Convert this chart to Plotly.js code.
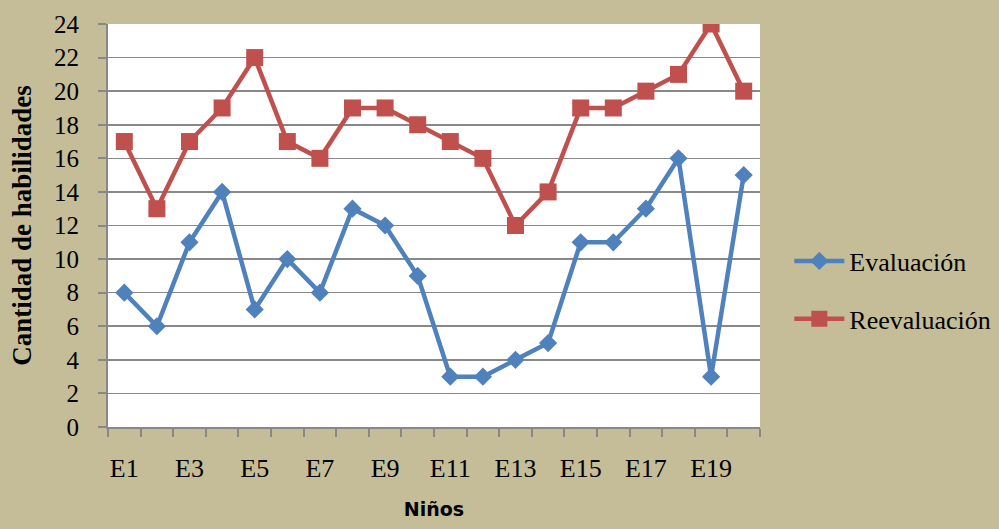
<!DOCTYPE html>
<html><head><meta charset="utf-8">
<script src="https://cdn.plot.ly/plotly-3.0.1.min.js"></script>
<style>html,body{margin:0;padding:0;background:#C4BD97;}</style>
</head><body>
<div id="chart" style="width:999px;height:529px;"></div>
<script>
const categories = ["E1","E2","E3","E4","E5","E6","E7","E8","E9","E10","E11","E12","E13","E14","E15","E16","E17","E18","E19","E20"];
const evaluacion = [8,6,11,14,7,10,8,13,12,9,3,3,4,5,11,11,13,16,3,15];
const reevaluacion = [17,13,17,19,22,17,16,19,19,18,17,16,12,14,19,19,20,21,24,20];
const yTicks = [0,2,4,6,8,10,12,14,16,18,20,22,24];

const xIdx = categories.map((c,i)=>i);
const labelIdx = xIdx.filter(i=>i%2===0);
const labelText = labelIdx.map(i=>categories[i]);
const serif = "Liberation Serif";

const traces = [
  {x:xIdx, y:evaluacion, name:"Evaluación", mode:"lines+markers", legendgroup:"a",
   line:{color:"#4F81BD", width:4.5}, marker:{symbol:"diamond", size:14, color:"#4F81BD"}},
  {x:xIdx, y:reevaluacion, name:"Reevaluación", mode:"lines+markers", legendgroup:"b",
   line:{color:"#C0504D", width:4.5}, marker:{symbol:"square", size:17, color:"#C0504D"}}
];
const layout = {
  width:999, height:529,
  paper_bgcolor:"#C4BD97", plot_bgcolor:"#FFFFFF",
  margin:{l:108, r:239, t:24, b:102, autoexpand:false},
  showlegend:true,
  legend:{x:1.045, xanchor:"left", y:0.34, yanchor:"middle", bgcolor:"rgba(0,0,0,0)",
    font:{family:serif, size:26, color:"#000"}, tracegroupgap:21, itemwidth:50},
  xaxis:{range:[-0.5,19.5], tickmode:"array", tickvals:labelIdx, ticktext:labelText,
    ticks:"", ticklen:0, showgrid:false, zeroline:false, showline:true, linecolor:"#888888", linewidth:2,
    ticklabelstandoff:17,
    minor:{tickmode:"linear", tick0:-0.5, dtick:1, ticks:"outside", ticklen:8, tickcolor:"#888888", tickwidth:2, showgrid:false},
    tickfont:{family:serif, size:26, color:"#000"},
    title:{text:"<b>Niños</b>", font:{family:"DejaVu Sans", size:19, color:"#000"}, standoff:20}},
  yaxis:{range:[0,24], tickmode:"array", tickvals:yTicks, ticks:"outside", ticklen:8, tickcolor:"#888888", tickwidth:2,
    showgrid:true, gridcolor:"#888888", gridwidth:1.6, zeroline:false, showline:true, linecolor:"#888888", linewidth:2,
    tickfont:{family:serif, size:25, color:"#000"}, ticklabelstandoff:14,
    title:{text:"<b>Cantidad de habilidades</b>", font:{family:serif, size:27, color:"#000"}, standoff:15}}
};
Plotly.newPlot("chart", traces, layout, {displayModeBar:false, staticPlot:true});
</script>
</body></html>
